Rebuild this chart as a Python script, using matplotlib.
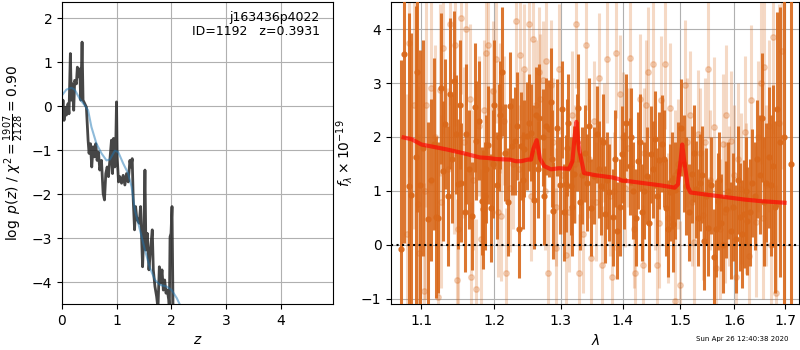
import matplotlib.pyplot as plt
from matplotlib.ticker import FormatStrFormatter, NullLocator

# redshift probability, noisy curve
z_grid = [0.0, 0.018, 0.037, 0.061, 0.080, 0.110, 0.128, 0.153, 0.171, 0.190,
          0.214, 0.232, 0.263, 0.281, 0.306, 0.324, 0.343, 0.367, 0.385, 0.416,
          0.446, 0.477, 0.495, 0.520, 0.544, 0.569, 0.593, 0.618, 0.642, 0.667,
          0.691, 0.722, 0.752, 0.777, 0.801, 0.826, 0.850, 0.875, 0.905, 0.924,
          0.942, 0.966, 0.985, 0.997, 1.009, 1.034, 1.058, 1.089, 1.119, 1.150,
          1.180, 1.211, 1.242, 1.260, 1.284, 1.303, 1.327, 1.346, 1.364, 1.382,
          1.413, 1.437, 1.474, 1.498, 1.517, 1.535, 1.560, 1.590, 1.621, 1.651,
          1.670, 1.700, 1.731, 1.755, 1.780, 1.804, 1.829, 1.853, 1.878, 1.902,
          1.927, 1.951, 1.963, 1.976, 1.994, 2.012, 2.031, 2.05]
logp = [-0.24, 0.14, -0.32, -0.02, -0.20, 0.06, -0.17, 1.20, 0.14, 0.51,
        -0.09, 0.59, 0.51, 0.89, 0.67, 0.85, 0.14, 1.46, 0.14, 0.06,
        -0.02, -0.77, -1.07, -0.85, -1.38, -0.92, -1.15, -0.85, -1.23, -1.04,
        -1.45, -1.23, -1.98, -2.13, -1.53, -1.38, -1.60, -1.23, -0.77, -1.53,
        -0.73, -1.38, -0.77, 0.10, -1.15, -1.72, -1.60, -1.75, -1.57, -1.79,
        -1.53, -1.72, -1.23, -1.38, -1.19, -2.13, -2.81, -2.28, -2.51, -2.59,
        -2.66, -2.28, -3.65, -2.81, -1.45, -3.27, -2.89, -3.72, -3.23, -2.81,
        -3.72, -4.10, -4.33, -4.60, -3.65, -4.02, -3.72, -4.18, -3.95, -4.25,
        -4.18, -4.40, -4.65, -2.97, -2.89, -2.28, -4.65, -6.0]

# smoothed prior-weighted curve
z_smooth = [0.0, 0.08, 0.171, 0.232, 0.324, 0.416, 0.477, 0.538, 0.63, 0.722,
            0.813, 0.875, 0.966, 1.028, 1.119, 1.211, 1.272, 1.333, 1.425, 1.517,
            1.609, 1.70, 1.792, 1.914, 2.006, 2.098, 2.159, 2.2]
logp_smooth = [0.25, 0.38, 0.42, 0.38, 0.17, 0.02, -0.09, -0.47, -0.85, -1.07,
               -1.23, -1.21, -1.01, -1.04, -1.30, -1.53, -1.83, -2.36, -2.81, -3.27,
               -3.68, -3.95, -4.06, -4.10, -4.18, -4.36, -4.52, -4.7]

# spectrum, first grism orientation (dark)
wave_a = [1.0730, 1.0769, 1.0838, 1.0869, 1.0925, 1.0943, 1.0978,
          1.1021, 1.1088, 1.1163, 1.1190, 1.1221,
          1.1289, 1.1320, 1.1380, 1.1435, 1.1462, 1.1495, 1.1541, 1.1610, 1.1693,
          1.1730, 1.1749, 1.1828, 1.1843, 1.1890, 1.1918, 1.1956, 1.2004,
          1.2066, 1.2114, 1.2162, 1.2225, 1.2259, 1.2298, 1.2361, 1.2395, 1.2445,
          1.2484, 1.2518, 1.2543, 1.2593, 1.2643, 1.2668, 1.2718, 1.2768, 1.2809,
          1.2839, 1.2880, 1.2946, 1.3013,
          1.3050, 1.3076, 1.3117, 1.3154, 1.3212, 1.3275, 1.3328, 1.3408, 1.3472,
          1.3526, 1.3580, 1.3634, 1.3704, 1.3764, 1.3830, 1.3901, 1.3984, 1.4056,
          1.4112, 1.4179, 1.4252, 1.4319, 1.4404, 1.4478, 1.4547, 1.4616, 1.4674,
          1.4750, 1.4808, 1.4866, 1.4907, 1.4954, 1.5013,
          1.5103, 1.5205, 1.5283, 1.5362, 1.5435, 1.5497, 1.5608, 1.5682, 1.5744,
          1.5837, 1.5931, 1.6026, 1.6110, 1.6187, 1.6251,
          1.6349, 1.6447, 1.6545, 1.6611, 1.6678, 1.6765, 1.6831,
          1.6970, 1.7120,
          1.1125, 1.1255, 1.1355, 1.1410, 1.1520, 1.1585, 1.1650, 1.1790, 1.1870,
          1.1980, 1.2040, 1.2090, 1.2195, 1.2330, 1.2420, 1.2570, 1.2620, 1.2745,
          1.2860, 1.2980, 1.3095, 1.3180, 1.3245, 1.3300, 1.3380, 1.3440, 1.3605,
          1.3675, 1.3735, 1.3865, 1.3945, 1.4020, 1.4145, 1.4215, 1.4290, 1.4360,
          1.4440, 1.4510, 1.4580, 1.4710, 1.4780, 1.4840, 1.5060, 1.5160, 1.5245,
          1.5320, 1.5400, 1.5465, 1.5555, 1.5645, 1.5710, 1.5790, 1.5885, 1.5980,
          1.6070, 1.6150, 1.6220, 1.6300, 1.6400, 1.6495, 1.6580, 1.6720, 1.6800,
          1.6900]
flux_a = [-0.08, 3.53, 1.09, 0.93, 1.62, 3.20, 1.11,
          1.80, 0.48, 1.87, 0.51, 0.50,
          1.37, 2.24, 2.80, 3.04, 2.05, 1.13, 1.15, 2.05, 0.54,
          2.55, 1.93, 0.81, 0.66, 1.40, 1.85, 0.68, 2.60,
          1.99, 3.21, 1.71, 2.57, 1.83, 1.93, 0.29, 1.83, 1.78,
          2.02, 2.26, 2.08, 0.83, 1.40, 2.36, 1.99, 2.20, 2.15,
          2.65, 0.63, 2.17, 2.51,
          0.60, 1.13, 2.26, 1.09, 1.31, 2.54, 1.29, 1.15, 0.69,
          1.28, 2.05, 1.09, 0.57, 0.97, 0.51, 0.26, 1.68, 2.26,
          1.46, 1.00, 1.56, 0.60, 1.28, 1.68, 1.96, 1.57, 1.87,
          0.69, 0.97, 0.39, 1.01, 1.37, 2.17,
          1.09, 1.31, 1.03, 1.15, 0.07, 0.32, -0.23, 0.81, 0.41,
          0.66, 0.26, 0.11, 0.51, 0.57, 0.44,
          1.15, 1.59, 2.36, 1.15, 1.62, 1.46, 2.51,
          2.00, 1.50,
          1.2, 2.9, 0.9, 1.6, 2.6, 0.6, 1.4, 2.3, 0.9,
          1.5, 1.1, 2.4, 0.8, 2.2, 1.2, 1.7, 2.4, 0.9,
          1.6, 1.1, 1.8, 0.7, 1.9, 0.8, 1.7, 2.2, 1.4,
          1.9, 1.2, 1.6, 0.7, 1.2, 2.0, 0.5, 1.9, 1.0,
          0.4, 1.4, 0.9, 1.6, 0.3, 1.2, 1.5, 0.6, 1.7,
          0.5, 1.3, 0.9, 1.1, 0.3, 1.2, 0.0, 1.0, 0.7,
          1.2, 0.2, 1.0, 0.6, 0.9, 1.3, 0.8, 1.1, 0.7,
          1.9]
err_a = [3.5, 3.5, 3.2, 3.0, 2.8, 2.6, 2.5,
         2.0, 1.8, 1.6, 1.5, 1.4,
         1.3, 1.2, 1.4, 1.3, 1.1, 1.2, 1.1, 1.3, 1.0,
         1.2, 1.1, 1.0, 1.1, 1.0, 1.1, 1.0, 1.2,
         1.0, 1.2, 0.9, 1.0, 0.9, 1.0, 0.9, 1.0, 0.9,
         1.0, 0.9, 0.9, 0.9, 0.9, 1.0, 0.9, 0.9, 0.9,
         1.0, 0.9, 0.9, 0.9,
         0.9, 0.9, 0.9, 0.9, 0.9, 1.0, 0.9, 0.9, 0.9,
         0.9, 0.9, 0.9, 0.9, 0.9, 0.9, 0.9, 0.9, 0.9,
         0.9, 0.9, 0.9, 0.9, 0.9, 0.9, 0.9, 0.9, 0.9,
         0.9, 0.9, 0.9, 0.9, 0.9, 0.9,
         0.9, 0.9, 0.9, 0.9, 0.9, 0.9, 0.9, 0.9, 0.9,
         0.9, 0.9, 1.0, 1.0, 1.0, 1.0,
         1.0, 1.1, 1.2, 1.1, 1.3, 1.5, 1.8,
         5.0, 6.0,
         1.5, 1.4, 1.3, 1.2, 1.2, 1.1, 1.1, 1.1, 1.0,
         1.0, 1.0, 1.0, 1.0, 1.0, 0.9, 0.9, 0.9, 0.9,
         0.9, 0.9, 0.9, 0.9, 0.9, 0.9, 0.9, 0.9, 0.9,
         0.9, 0.9, 0.9, 0.9, 0.9, 0.9, 0.9, 0.9, 0.9,
         0.9, 0.9, 0.9, 0.9, 0.9, 0.9, 0.9, 0.9, 0.9,
         0.9, 0.9, 0.9, 0.9, 0.9, 0.9, 0.9, 0.9, 1.0,
         1.0, 1.0, 1.0, 1.0, 1.0, 1.1, 1.2, 1.3, 1.6,
         2.5]

# spectrum, second grism orientation (light)
wave_b = [1.0812, 1.0834, 1.0956, 1.0969, 1.1035, 1.1066, 1.1132, 1.1221, 1.1244, 1.1289,
          1.1380, 1.1449, 1.1485, 1.1541, 1.1610, 1.1656, 1.1679, 1.1749, 1.1819, 1.1890,
          1.1913, 1.1985, 1.2032, 1.2080, 1.2104, 1.2177, 1.2225, 1.2322, 1.2381, 1.2445,
          1.2518, 1.2568, 1.2658, 1.2718, 1.2768, 1.2793, 1.2844, 1.2921, 1.2972, 1.3076,
          1.3128, 1.3233, 1.3285, 1.3392, 1.3472, 1.3553, 1.3607, 1.3661, 1.3742, 1.3819,
          1.3884, 1.3956, 1.4039, 1.4123, 1.4207, 1.4291, 1.4348, 1.4432, 1.4518, 1.4576,
          1.4662, 1.4720, 1.4808, 1.4896, 1.4984, 1.5073, 1.5163, 1.5253, 1.5313, 1.5405,
          1.5497, 1.5608, 1.5651, 1.5775, 1.5837, 1.5944, 1.6026, 1.6122, 1.6219, 1.6316,
          1.6414, 1.6512, 1.6578, 1.6678, 1.6765, 1.6811, 1.6878,
          1.090, 1.105, 1.118, 1.135, 1.150, 1.158, 1.170, 1.178, 1.195, 1.214,
          1.228, 1.242, 1.255, 1.262, 1.275, 1.287, 1.302, 1.318, 1.334, 1.345,
          1.368, 1.385, 1.400, 1.418, 1.436, 1.455, 1.478, 1.495, 1.512, 1.535,
          1.553, 1.572, 1.590, 1.607, 1.628, 1.645, 1.662, 1.672, 1.694,
          1.126, 1.144, 1.186, 1.206, 1.236, 1.268, 1.292, 1.322, 1.352, 1.378,
          1.408, 1.440, 1.462, 1.490, 1.520, 1.545, 1.582, 1.600, 1.620, 1.655]
flux_b = [0.20, 3.75, 0.75, -0.15, -0.85, 2.60, 2.90, -0.97, 2.87, 3.65,
          4.10, 3.70, -0.65, 4.20, 4.00, 2.70, -0.60, -0.82, 0.10, 3.55,
          3.70, 2.85, 3.45, 2.54, 0.53, -0.52, 1.06, 4.15, 3.51, 3.26,
          4.10, 3.82, 3.20, 3.05, 3.40, -0.52, 2.96, -0.05, 3.26, -0.18,
          0.60, 4.10, -0.52, 3.70, -0.25, 0.80, 3.10, -0.38, 3.45, -0.60,
          3.55, 2.79, 1.06, 3.47, -0.52, 2.70, -0.37, 3.20, 3.35, -0.37,
          2.68, 3.35, 2.54, -1.05, -0.75, 2.96, 2.40, 0.05, 2.05, 0.55,
          3.26, 2.18, -0.43, 1.86, 2.40, 1.93, -0.60, 1.04, 0.85, 2.68,
          0.43, 3.00, 3.30, 2.20, 3.85, -0.90, 2.26,
          2.6, 1.0, 2.0, 1.4, 0.3, 1.9, 1.2, 2.2, 1.6, 2.3,
          1.5, 2.0, 0.9, 2.6, 1.0, 1.9, 1.3, 2.4, 0.2, 1.6,
          1.9, 1.0, 2.0, 0.3, 1.7, 1.1, 0.5, 1.5, 1.9, 1.7,
          1.2, 0.3, 0.9, 1.6, -0.2, 2.0, 1.1, 0.0, 3.6,
          0.8, 1.7, 2.5, 0.6, 1.4, 2.7, 0.7, 1.5, 2.3, 0.9,
          1.8, 2.6, 0.4, 1.3, 0.8, 1.9, 0.6, 1.3, 2.1, 0.5]
err_b = [2.6, 2.5, 2.2, 2.2, 2.0, 1.9, 1.8, 1.7, 1.6, 1.6,
         1.5, 1.5, 1.5, 1.4, 1.4, 1.4, 1.4, 1.3, 1.3, 1.3,
         1.3, 1.3, 1.2, 1.2, 1.2, 1.2, 1.2, 1.2, 1.2, 1.2,
         1.2, 1.2, 1.2, 1.1, 1.2, 1.1, 1.2, 1.1, 1.2, 1.1,
         1.1, 1.2, 1.1, 1.2, 1.1, 1.1, 1.2, 1.1, 1.2, 1.1,
         1.2, 1.1, 1.1, 1.2, 1.1, 1.2, 1.1, 1.2, 1.2, 1.1,
         1.2, 1.2, 1.2, 1.2, 1.2, 1.2, 1.2, 1.2, 1.2, 1.2,
         1.3, 1.3, 1.3, 1.3, 1.3, 1.3, 1.3, 1.4, 1.4, 1.4,
         1.4, 1.5, 1.5, 1.6, 1.8, 2.0, 2.2,
         2.3, 2.0, 1.7, 1.5, 1.4, 1.4, 1.3, 1.3, 1.3, 1.2,
         1.2, 1.2, 1.2, 1.2, 1.1, 1.2, 1.1, 1.2, 1.1, 1.1,
         1.1, 1.1, 1.2, 1.1, 1.2, 1.2, 1.2, 1.2, 1.2, 1.2,
         1.3, 1.3, 1.3, 1.4, 1.4, 1.4, 1.5, 1.6, 2.2,
         1.6, 1.5, 1.3, 1.2, 1.2, 1.2, 1.1, 1.1, 1.1, 1.1,
         1.1, 1.2, 1.2, 1.2, 1.2, 1.2, 1.3, 1.3, 1.4, 1.5]

# best-fit model
model_wave = [1.0769, 1.0869, 1.1000, 1.1110, 1.1334, 1.1564, 1.1796, 1.1913, 1.2032,
              1.2225, 1.2322, 1.2395, 1.2494, 1.2543, 1.2578, 1.2628, 1.2678, 1.2743,
              1.2844, 1.2972, 1.3128, 1.3180, 1.3217, 1.3243, 1.3285, 1.3365, 1.3553,
              1.3819, 1.3929, 1.3984, 1.4095, 1.4376, 1.4662, 1.4896, 1.4954, 1.5001,
              1.5031, 1.5061, 1.5133, 1.5181, 1.5558, 1.5869, 1.6187, 1.6512, 1.6990]
model_flux = [1.99, 1.96, 1.86, 1.83, 1.77, 1.70, 1.62, 1.61, 1.59,
              1.58, 1.55, 1.55, 1.58, 1.58, 1.78, 1.94, 1.60, 1.46,
              1.40, 1.42, 1.41, 1.55, 2.03, 2.28, 1.78, 1.33, 1.29,
              1.25, 1.22, 1.19, 1.18, 1.14, 1.10, 1.06, 1.12, 1.55,
              1.86, 1.60, 1.07, 0.97, 0.92, 0.88, 0.84, 0.81, 0.78]

dark_orange = '#d9681a'

fig = plt.figure(figsize=(8, 3.5), dpi=100)
ax1 = fig.add_axes([0.0775, 0.131, 0.339, 0.863])
ax2 = fig.add_axes([0.489, 0.131, 0.510, 0.863])

# left: p(z)
ax1.plot(z_grid, logp, color='0.15', alpha=0.85, lw=2)
ax1.plot(z_smooth, logp_smooth, color='tab:blue', alpha=0.5, lw=1.5)
ax1.set_xlim(0, 4.96)
ax1.set_ylim(-4.5, 2.37)
ax1.set_xticks([0, 1, 2, 3, 4])
ax1.set_yticks([-4, -3, -2, -1, 0, 1, 2])
ax1.grid(True)
ax1.set_xlabel(r'$z$')
ax1.set_ylabel(r'$\log\ p(z)$ / $\chi^2=\frac{1907}{2128}=0.90$')
ax1.text(0.95, 0.97, 'j163436p4022\nID=1192   z=0.3931', transform=ax1.transAxes,
         ha='right', va='top', fontsize=9, linespacing=1.1)

# right: spectrum
ax2.errorbar(wave_b, flux_b, yerr=err_b, marker='o', ms=4, linestyle='none',
             color=dark_orange, alpha=0.25, elinewidth=2.2, zorder=2)
ax2.errorbar(wave_a, flux_a, yerr=err_a, marker='o', ms=3.5, linestyle='none',
             color=dark_orange, alpha=0.9, elinewidth=2.2, zorder=3)
ax2.plot(model_wave, model_flux, color='red', alpha=0.65, lw=3, zorder=4)
ax2.axhline(0, color='k', linestyle=':', lw=1.5, zorder=5)

ax2.set_xscale('log')
ax2.set_xlim(1.061, 1.729)
ax2.set_ylim(-1.1, 4.5)
ax2.set_xticks([1.1, 1.2, 1.3, 1.4, 1.5, 1.6, 1.7])
ax2.xaxis.set_major_formatter(FormatStrFormatter('%.1f'))
ax2.xaxis.set_minor_locator(NullLocator())
ax2.set_yticks([-1, 0, 1, 2, 3, 4])
ax2.grid(True)
ax2.set_xlabel(r'$\lambda$')
ax2.set_ylabel(r'$f_\lambda\times10^{-19}$')

fig.text(0.985, 0.031, 'Sun Apr 26 12:40:38 2020', ha='right', va='center', fontsize=5)

fig.savefig('out.png', dpi=100)
